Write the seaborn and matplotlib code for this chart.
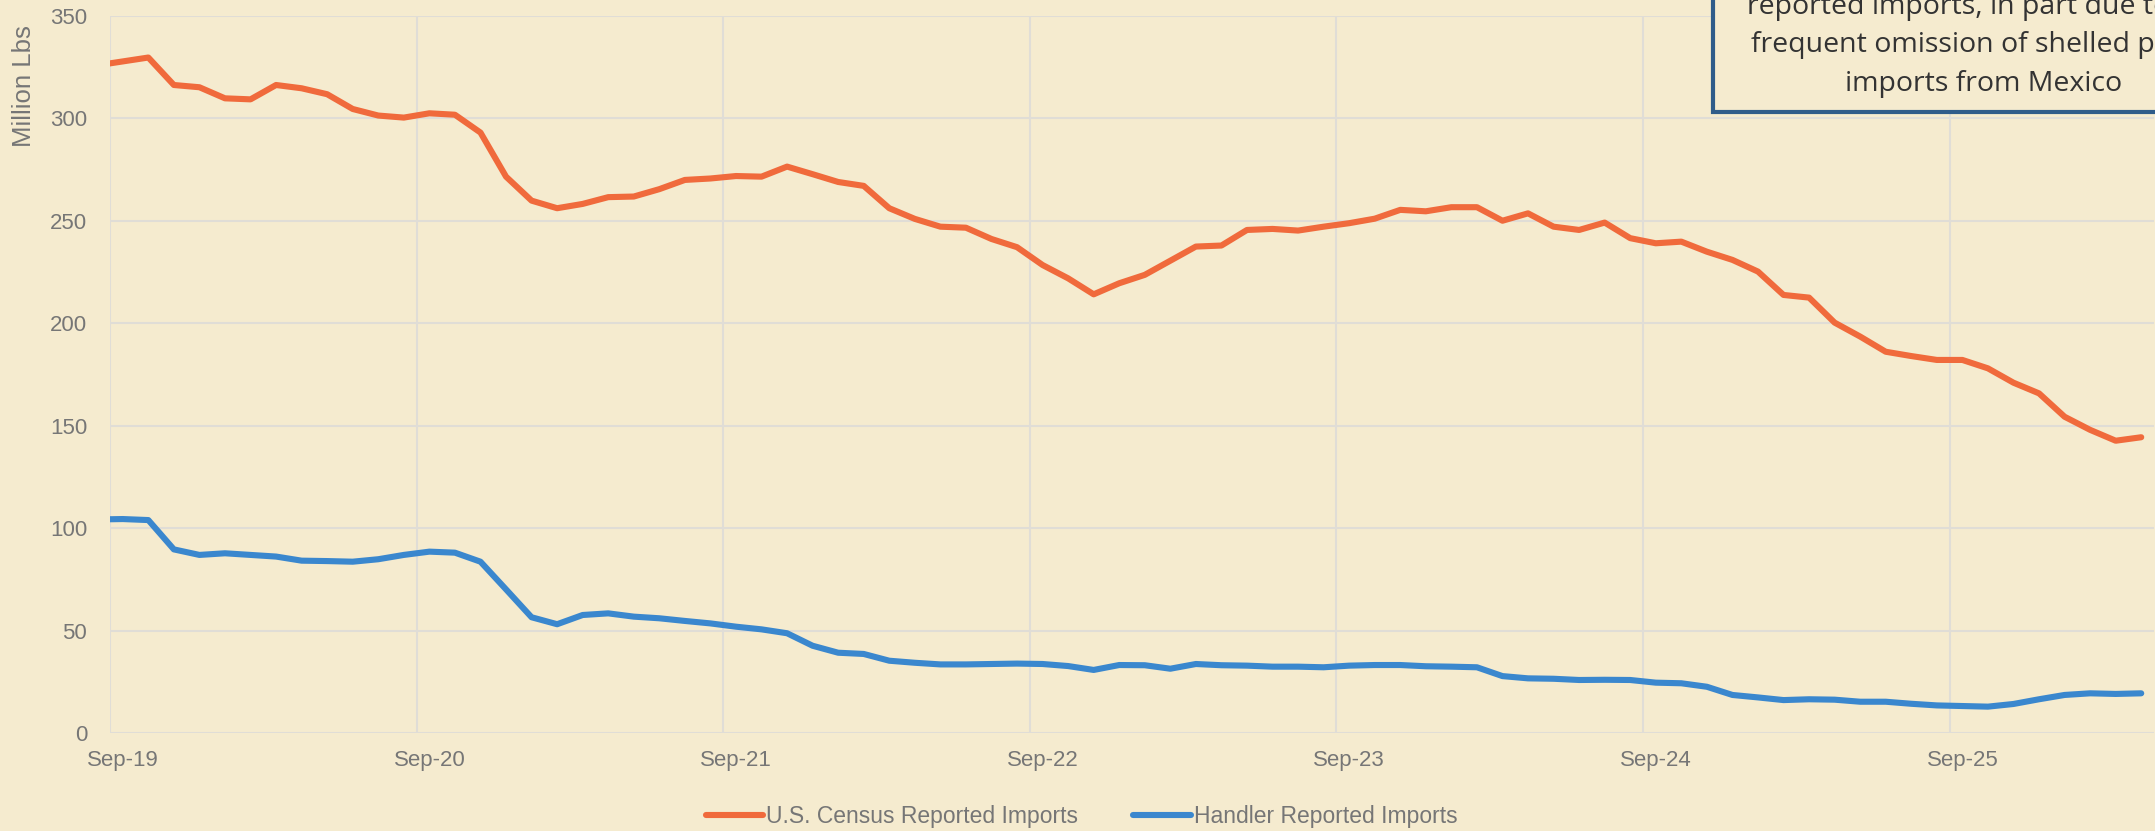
import numpy as np
import pandas as pd
import matplotlib
matplotlib.use("Agg")
import matplotlib.pyplot as plt
from matplotlib.patches import Rectangle
import seaborn as sns

# ---------------- data (monthly, Aug-2019 .. Apr-2026; first point sits just left of the axis start) ----
months = pd.period_range("2019-08", "2026-04", freq="M")
census = [325.8, 327.7, 329.6, 316.2, 315.1, 309.7, 309.2, 316.2, 314.6, 311.7, 304.5, 301.3,
          300.3, 302.4, 301.7, 293.0, 271.5, 259.8, 256.1, 258.2, 261.5, 261.8, 265.4, 269.9,
          270.6, 271.8, 271.5, 276.4, 272.7, 268.9, 267.0, 256.1, 250.9, 247.1, 246.6, 241.1,
          237.1, 228.4, 221.9, 214.1, 219.5, 223.6, 230.5, 237.4, 237.9, 245.5, 246.0, 245.2,
          247.1, 248.8, 251.0, 255.3, 254.6, 256.6, 256.6, 250.0, 253.6, 247.1, 245.5, 249.1,
          241.5, 239.0, 239.8, 234.9, 230.9, 225.2, 213.8, 212.5, 200.3, 193.5, 186.1, 184.0,
          182.1, 182.1, 178.0, 171.0, 165.8, 154.4, 148.0, 142.7, 144.4]
handler = [104.3, 104.5, 104.0, 89.7, 87.0, 87.8, 87.0, 86.2, 84.2, 84.0, 83.7, 84.9,
           87.0, 88.6, 88.1, 83.7, 70.2, 56.6, 53.2, 57.7, 58.5, 56.9, 56.1, 54.8,
           53.6, 52.0, 50.7, 48.8, 42.7, 39.3, 38.7, 35.4, 34.4, 33.6, 33.6, 33.8,
           34.0, 33.8, 32.8, 30.9, 33.3, 33.2, 31.5, 33.8, 33.2, 33.0, 32.5, 32.5,
           32.2, 33.0, 33.3, 33.3, 32.7, 32.5, 32.2, 27.9, 26.8, 26.6, 26.0, 26.1,
           26.0, 24.7, 24.4, 22.7, 18.7, 17.5, 16.2, 16.6, 16.4, 15.4, 15.4, 14.4,
           13.6, 13.3, 13.0, 14.3, 16.6, 18.7, 19.5, 19.2, 19.5]
series_names = ["U.S. Census Reported Imports", "Handler Reported Imports"]
series_colors = ["#F06A3C", "#3A87CE"]
tick_labels = ["Sep-19", "Sep-20", "Sep-21", "Sep-22", "Sep-23", "Sep-24", "Sep-25"]
y_ticks = [0, 50, 100, 150, 200, 250, 300, 350]
y_label = "Million Lbs"
note_lines = ["reported imports, in part due to the",
              "frequent omission of shelled pecan",
              "imports from Mexico"]

# ---------------- style ----------------
BG = "#F5EBCF"
GRID = "#E0DDD6"
TXT = "#767676"
sns.set_style("white")
plt.rcParams["font.family"] = ["Liberation Sans", "DejaVu Sans"]

start = pd.Period("2019-09", freq="M")
xpos = np.array([(m - start).n for m in months], dtype=float) + 0.5  # category centres

df = pd.DataFrame({
    "x": np.concatenate([xpos, xpos]),
    "value": np.concatenate([census, handler]),
    "series": [series_names[0]] * len(months) + [series_names[1]] * len(months),
})

W, H = 2155, 831
fig = plt.figure(figsize=(W / 100, H / 100), dpi=100, facecolor=BG)
ax = fig.add_axes([110 / W, (H - 733.3) / H, 2044 / W, 717.6 / H])
ax.set_facecolor(BG)

sns.lineplot(data=df, x="x", y="value", hue="series", hue_order=series_names,
             palette=dict(zip(series_names, series_colors)), linewidth=4.4,
             solid_capstyle="round", solid_joinstyle="round", ax=ax, legend=True, zorder=3)

ax.set_xlim(0, 80)
ax.set_ylim(0, 350)
for s in ax.spines.values():
    s.set_visible(False)

# x axis: gridlines at category boundaries, labels at category centres
label_pos = [xpos[list(months.strftime("%b-%y")).index(t)] for t in tick_labels]
grid_pos = [p - 0.5 for p in label_pos]
ax.set_xticks(grid_pos)
ax.set_xticklabels([""] * len(grid_pos))
ax.set_xticks(label_pos, minor=True)
ax.set_xticklabels(tick_labels, minor=True)
ax.tick_params(axis="x", which="major", length=5, width=1.5, color=GRID, direction="out")
ax.tick_params(axis="x", which="minor", length=0, pad=12, labelsize=16, labelcolor=TXT)
ax.set_yticks(y_ticks)
ax.tick_params(axis="y", length=0, pad=16.5, labelsize=16, labelcolor=TXT)
ax.grid(True, which="major", axis="both", color=GRID, linewidth=1.5)
ax.grid(False, which="minor")
ax.set_axisbelow(True)
ax.set_xlabel("")
ax.set_ylabel(y_label, fontsize=18.5, color=TXT)
ax.yaxis.set_label_coords((24.5 - 110) / 2044, (733.3 - 86) / 717.6)
ax.yaxis.label.set_verticalalignment("center")

# legend
leg = ax.get_legend()
handles = leg.legend_handles
labels = [t.get_text() for t in leg.get_texts()]
for h in handles:
    h.set_linewidth(4.4)
    h.set_solid_capstyle("round")
ax.legend(handles, labels, loc="center", bbox_to_anchor=(0.502, 1 - 816.7 / H),
          bbox_transform=fig.transFigure, ncol=2, frameon=False, fontsize=16.5,
          handlelength=2.5, handletextpad=0.15, columnspacing=2.4, labelcolor=TXT)

# annotation box (extends beyond the top-right of the figure)
box = Rectangle((1713 / W, 1 - 111.7 / H), 0.4, 0.4, transform=fig.transFigure,
                facecolor=BG, edgecolor="#2F5C8A", linewidth=3, zorder=10, clip_on=False)
fig.add_artist(box)
base = 1 - 90.7 / H
step = 38.3 / H
for i, line in enumerate(reversed(note_lines)):
    fig.text(1984 / W, base + i * step, line, ha="center", va="baseline",
             fontsize=20.5, family=["Open Sans", "DejaVu Sans"], color="#333333", zorder=11)

fig.savefig("out.png", dpi=100, facecolor=BG)
